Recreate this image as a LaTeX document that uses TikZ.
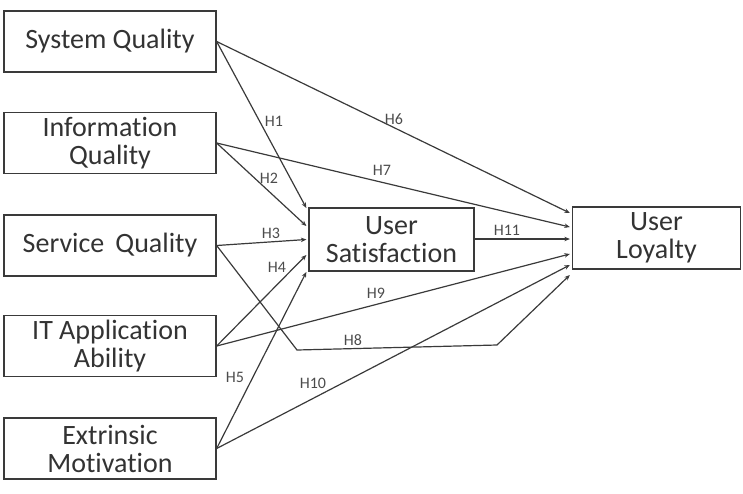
\documentclass[tikz,border=0pt]{standalone}
\usepackage{fontspec}
\setmainfont{Carlito}[Ligatures={NoCommon}]
\usetikzlibrary{arrows.meta,calc}
\definecolor{ln}{HTML}{3A3A3A}
\begin{document}
\begin{tikzpicture}[x=1pt,y=-1pt,
  box/.style={draw=ln,line width=1.3pt,rectangle,minimum width=212pt,minimum height=61pt,inner sep=0pt,align=center,font=\fontsize{28}{28}\selectfont,text=black!80},
  arr/.style={draw=ln,line width=1.2pt,-{Stealth[length=5.5pt,width=4.5pt]}},
  hl/.style={font=\fontsize{16}{18}\selectfont,text=black!70,inner sep=0pt}]
\useasboundingbox (0,0) rectangle (743,493);
\node[box] (SQ) at (110,41.5) {System Quality};
\node[box] (IQ) at (110,143) {Information\\Quality};
\node[box] (SvQ) at (110,245.5) {Service\, Quality};
\node[box] (IT) at (110,346) {IT Application\\Ability};
\node[box] (EM) at (110,448.5) {Extrinsic\\Motivation};
\node[box,minimum width=165pt,minimum height=63pt] (US) at (391.5,239.5) {User\\Satisfaction};
\node[box,minimum width=168pt,minimum height=62pt] (UL) at (656.5,238) {User\\Loyalty};
% end points on User Satisfaction
\coordinate (u1) at ([xshift=-2pt,yshift=31.5pt]US.west);
\coordinate (u2) at ([xshift=-2pt,yshift=13.5pt]US.west);
\coordinate (u3) at ([xshift=-2pt,yshift=0pt]US.west);
\coordinate (u4) at ([xshift=-2pt,yshift=-15.5pt]US.west);
\coordinate (u5) at ([xshift=-2pt,yshift=-32.5pt]US.west);
% end points on User Loyalty
\coordinate (l6) at ([xshift=-2pt,yshift=25pt]UL.west);
\coordinate (l7) at ([xshift=-2pt,yshift=11pt]UL.west);
\coordinate (l11) at ([xshift=-2pt,yshift=-1pt]UL.west);
\coordinate (l9) at ([xshift=-2pt,yshift=-16pt]UL.west);
\coordinate (l10) at ([xshift=-2pt,yshift=-27pt]UL.west);
\coordinate (l8) at ([xshift=-2pt,yshift=-37pt]UL.west);
\coordinate (b1) at (297,350);
\coordinate (b2) at (497,345);
% connectors
\draw[arr] (SQ.east) -- (u1);
\draw[arr] (IQ.east) -- (u2);
\draw[arr] (SvQ.east) -- (u3);
\draw[arr] (IT.east) -- (u4);
\draw[arr] (EM.east) -- (u5);
\draw[arr] (SQ.east) -- (l6);
\draw[arr] (IQ.east) -- (l7);
\draw[arr] (SvQ.east) -- (b1) -- (b2) -- (l8);
\draw[arr] (IT.east) -- (l9);
\draw[arr] (EM.east) -- (l10);
\draw[arr] (US.east |- l11) -- (l11);
% labels
\node[hl] (h1) at (274,121) {H1};
\node[hl] (h2) at (269,178) {H2};
\node[hl] (h3) at (271,233) {H3};
\node[hl] (h4) at (277,267) {H4};
\node[hl] (h5) at (235,377) {H5};
\node[hl] (h6) at (394,119) {H6};
\node[hl] (h7) at (382,170) {H7};
\node[hl] (h8) at (353,340) {H8};
\node[hl] (h9) at (376,293) {H9};
\node[hl] (h10) at (313,383) {H10};
\node[hl] (h11) at (507,230) {H11};
\end{tikzpicture}
\end{document}
